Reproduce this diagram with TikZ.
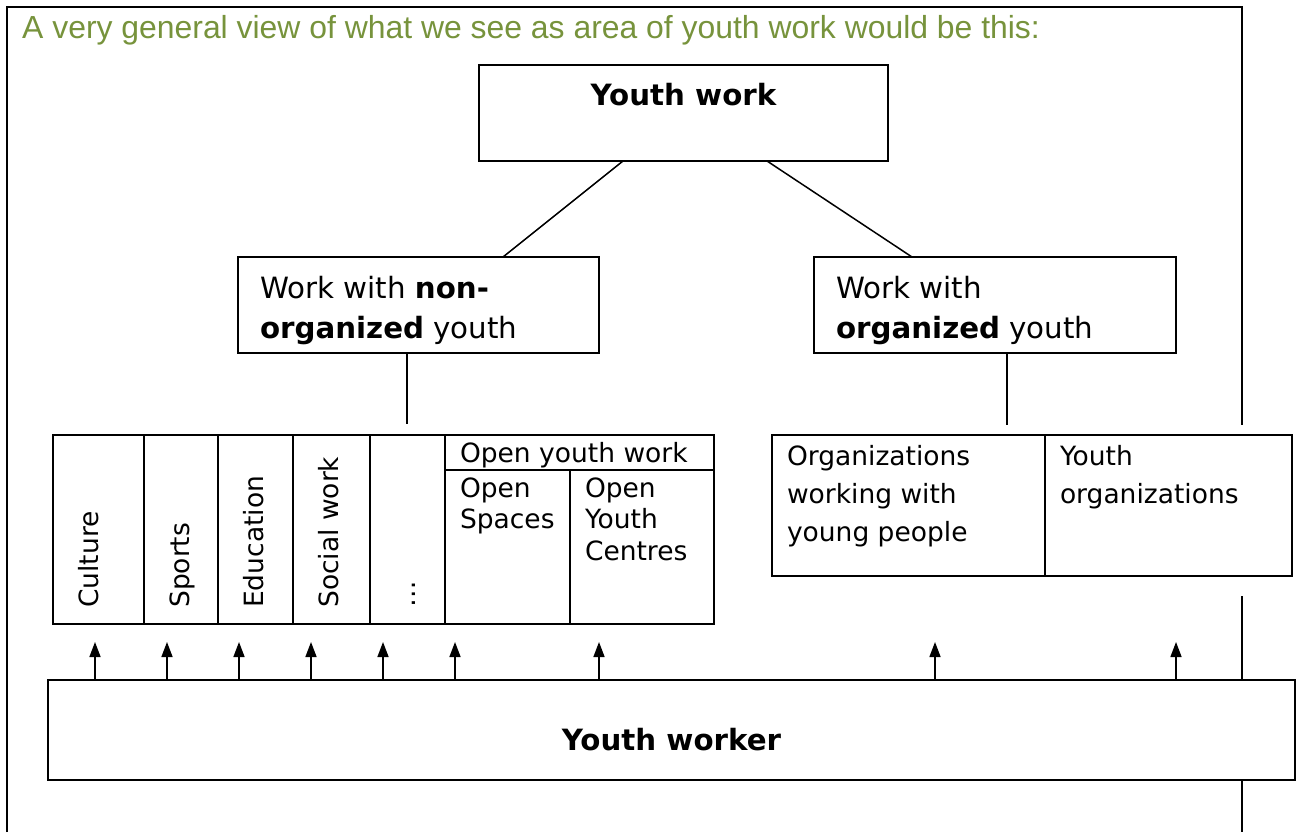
\documentclass[tikz,border=0pt]{standalone}
\usepackage{fontspec}
\setmainfont{DejaVu Sans}
\newfontfamily\titlefont{Liberation Sans}
\usetikzlibrary{calc,arrows.meta}
\definecolor{titlegreen}{RGB}{119,147,60}
% #1 width, #2 height, #3 left pad, #4 first baseline, #5 font, #6 text
\newcommand{\lbox}[6]{\parbox[c][#2][t]{#1}{#5\raggedright\leftskip=#3\relax\rule{0pt}{#4}#6\par}}
\newcommand{\cbox}[5]{\parbox[c][#2][t]{#1}{#4\centering\rule{0pt}{#3}#5\par}}
\newcommand{\bigfont}{\fontsize{29.3}{40}\selectfont}
\newcommand{\tabfont}{\fontsize{26.5}{31.5}\selectfont}
\newcommand{\orgfont}{\fontsize{26.5}{38}\selectfont}
\begin{document}
\begin{tikzpicture}[x=1pt,y=-1pt,
  cellbox/.style={draw, line width=1.8pt, inner sep=0pt, outer sep=0pt, anchor=north west, fill=white},
  emptycell/.style={cellbox, minimum height=189pt},
  rot/.style={rotate=90, anchor=base west, inner sep=0pt, font=\tabfont},
  conn/.style={line width=1.5pt},
  arr/.style={line width=1.5pt, -{Triangle[length=15pt,width=11pt]}},
  frame/.style={line width=2.5pt}]
\useasboundingbox (0,0) rectangle (1297,832);
% page frame
\draw[frame] (7,832) -- (7,7) -- (1242,7) -- (1242,425);
\draw[frame] (1242,596) -- (1242,680);
\draw[frame] (1242,780) -- (1242,832);
% title
\node[anchor=base west, inner sep=0pt, text=titlegreen, font=\titlefont\fontsize{31.9}{36}\selectfont] (title) at (22,39)
  {A very general view of what we see as area of youth work would be this:};
% top box
\node[cellbox] (ywork) at (479,65) {\cbox{409pt}{96pt}{41pt}{\bigfont\bfseries}{Youth work}};
% middle boxes
\node[cellbox] (nonorg) at (238,257) {\lbox{361pt}{96pt}{22pt}{41pt}{\bigfont}{Work with \textbf{non-}\\\textbf{organized} youth}};
\node[cellbox] (org) at (814,257) {\lbox{362pt}{96pt}{22pt}{41pt}{\bigfont}{Work with\\\textbf{organized} youth}};
\draw[conn] ($(ywork.south west)+(144,0)$) -- ($(nonorg.north west)+(265,0)$);
\draw[conn] ($(ywork.south east)+(-121,0)$) -- ($(org.north west)+(98,0)$);
\coordinate (nonorgend) at (407,424);
\coordinate (orgend) at (1007,425);
\draw[conn] (nonorg.south -| nonorgend) -- (nonorgend);
\draw[conn] (org.south -| orgend) -- (orgend);
% left table
\node[emptycell, minimum width=91pt] (culture) at (53,435) {};
\node[emptycell, minimum width=74pt] (sports) at (144,435) {};
\node[emptycell, minimum width=75pt] (education) at (218,435) {};
\node[emptycell, minimum width=77pt] (social) at (293,435) {};
\node[emptycell, minimum width=75pt] (dots) at (370,435) {};
\node[cellbox] (openhdr) at (445,435) {\lbox{269pt}{35pt}{15pt}{27pt}{\tabfont}{Open youth work}};
\node[cellbox] (openspaces) at (445,470) {\lbox{125pt}{154pt}{15pt}{27pt}{\tabfont}{Open\\Spaces}};
\node[cellbox] (opencentres) at (570,470) {\lbox{144pt}{154pt}{15pt}{27pt}{\tabfont}{Open\\Youth\\Centres}};
\node[rot] (tculture) at ($(culture.south west)+(45,-16)$) {Culture};
\node[rot] (tsports) at ($(sports.south west)+(45,-16)$) {Sports};
\node[rot] (teducation) at ($(education.south west)+(45,-16)$) {Education};
\node[rot] (tsocial) at ($(social.south west)+(45,-16)$) {Social work};
\node[rot] (tdots) at ($(dots.south west)+(45,-16)$) {…};
% right table
\node[cellbox] (orgs) at (772,435) {\lbox{273pt}{141pt}{15pt}{30pt}{\orgfont}{Organizations\\working with\\young people}};
\node[cellbox] (youthorgs) at (1045,435) {\lbox{247pt}{141pt}{15pt}{30pt}{\orgfont}{Youth\\organizations}};
% youth worker
\node[cellbox] (worker) at (48,680) {\cbox{1247pt}{100pt}{70pt}{\bigfont\bfseries}{Youth worker}};
\foreach \i/\x in {1/95,2/167,3/239,4/311,5/383,6/455,7/599,8/935,9/1176}{
  \coordinate (tip\i) at (\x,642);
  \draw[arr] (worker.north -| tip\i) -- (tip\i);
}
\end{tikzpicture}
\end{document}
